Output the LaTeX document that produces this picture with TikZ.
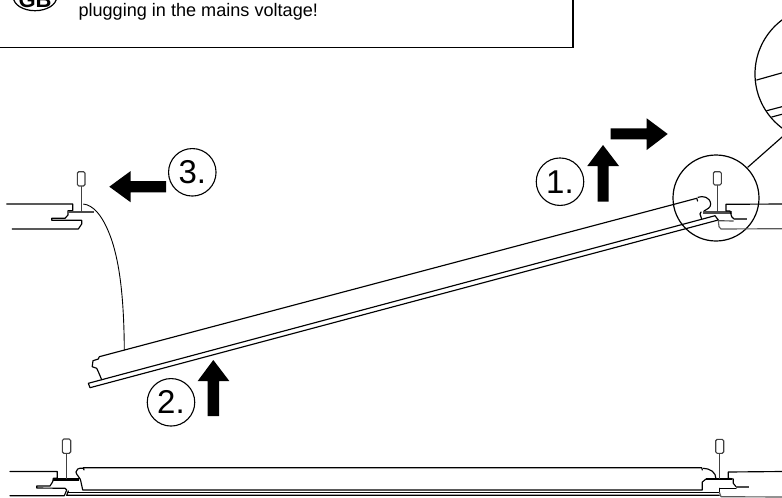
\documentclass[tikz,border=0pt]{standalone}
\usepackage{fontspec}
\setmainfont{Liberation Sans}
\tikzset{
  ln/.style={draw=black,line width=1.15pt,line join=round,line cap=round},
  thinl/.style={draw=black,line width=0.9pt,line join=round},
  grayl/.style={draw=black!65,line width=1.15pt,line join=round},
  flangeb/.style={draw=black,line width=2.4pt},
  bar/.style={draw=black!70,line width=2.4pt},
  stem/.style={draw=black!75,line width=1.5pt},
  knob/.style={draw=black!75,line width=1.1pt,rounded corners=1.5pt,fill=white},
  bigarrow/.style={fill=black},
  stepnum/.style={circle,draw=black,line width=1.1pt,inner sep=0pt,minimum size=47.5pt,font=\fontsize{33}{34}\selectfont},
  lens/.style={circle,draw=black,line width=1.2pt,inner sep=0pt}
}
\begin{document}
\begin{tikzpicture}[x=1pt,y=-1pt]
\clip (0,0) rectangle (782,498);
\fill[white] (0,0) rectangle (782,498);
% notice box
\coordinate (boxcorner) at (573,47.5);
\coordinate (boxleft) at (0,47.5);
\coordinate (boxtop) at (573,0);
\draw[line width=1.2pt] (boxleft) -- (boxcorner) -- (boxtop);
\draw[line width=1.2pt] (35,-3) ellipse [x radius=21.7,y radius=13.7];
\node[anchor=base,inner sep=0pt,font=\fontsize{22}{24}\selectfont\bfseries] (gb) at (35,7.5) {GB};
\node[anchor=base west,inner sep=0pt,font=\fontsize{18.1}{20}\selectfont] (notice) at (78.3,16) {plugging in the mains voltage!};
% magnifier lenses
\node[lens,minimum size=135pt] (lensbig) at (822.5,74) {};
\node[lens,minimum size=86pt] (lenssmall) at (716,198) {};
\coordinate (linkA) at (747.7,167.3);
\coordinate (linkB) at (790,130);
\draw[ln] (linkA) -- (linkB);
\draw[ln] (756.7,80) -- (790,70.6);
\draw[ln] (766.7,110.7) -- (790,104.6);
\draw[ln] (771.7,117) -- (790,112.2);
% arrows
\fill[bigarrow] (610.7,128.3) -- (646.7,128.3) -- (646.7,118.3) -- (667.7,134) -- (646.7,150) -- (646.7,139.3) -- (610.7,139.3) -- cycle;
\fill[bigarrow] (597.7,201.7) -- (597.7,166) -- (587.3,166) -- (603,145) -- (619,166) -- (608.7,166) -- (608.7,201.7) -- cycle;
\fill[bigarrow] (207.7,416) -- (207.7,381) -- (197.7,381) -- (213.3,360) -- (229.3,381) -- (219,381) -- (219,416) -- cycle;
\fill[bigarrow] (166,181) -- (130.7,181) -- (130.7,171) -- (109.3,186.7) -- (130.7,202.3) -- (130.7,192.3) -- (166,192.3) -- cycle;
\node[stepnum] (one) at (560,181.7) {1.};
\node[stepnum] (two) at (171,402.3) {2.};
\node[stepnum] (three) at (192.3,172.3) {3.};
% top-left fixing
\draw[ln] (6.7,204) -- (72.7,204) -- (72.7,210.7) -- (68,210.7) -- (68,215) -- (65,218.3) -- (51.7,218.3) -- (51.7,220.3) -- (81.7,220.3) -- (81.7,224) -- (78.3,229) -- (12.3,229);
\draw[bar] (68,212) -- (94,212);
\draw[stem] (81.3,186) -- (81.3,212);
\draw[knob] (77.3,171.7) rectangle (85,186);
\draw[thinl] (83.3,204) .. controls (93,205) and (103,215) .. (111.7,240) .. controls (120,265) and (124,300) .. (124.3,350);
% tilted panel
\draw[ln] (696.7,198.3) -- (99.3,356.7) -- (98.3,359) -- (93,360.7) -- (92.2,366.7) -- (96.7,368.3) -- (98.3,371.7) -- (101.7,379.7);
\draw[ln] (696.7,198.3) -- (697.6,201);
\draw[ln] (698,197.3) .. controls (703,195.5) and (710,197) .. (710.7,204) .. controls (710.7,208) and (707,209) .. (704,211);
\draw[ln] (701,212) -- (700,214) -- (701.5,218.5);
\draw[ln] (88.3,383.3) -- (715,215.7) -- (718.3,220) -- (90,387.7) -- cycle;
% top-right fixing
\draw[bar] (703.3,212.3) -- (731.7,212.3);
\draw[stem] (717.7,185) -- (717.7,212);
\draw[knob] (713.3,171.7) rectangle (721.3,185);
\draw[ln] (782,204) -- (726,204.3) -- (726,211) -- (730,211) -- (731.7,216.7) -- (734,219);
\draw[bar] (734,219) -- (746.7,219);
\draw[ln,draw=black!70] (718.3,220.7) -- (733.3,221);
\draw[grayl] (718.3,220.7) -- (719,226.7) -- (721,229) -- (782,228.7);
% bottom panel
\draw[ln] (10,471.5) -- (57.3,471.5) -- (57.3,478.3) -- (53.3,478.3) -- (52.7,481.7) -- (50,486) -- (36.7,486) -- (36.7,488) -- (65,488.3) -- (66.7,490) -- (64.3,495.7) -- (10,495.7);
\draw[flangeb] (53.3,479.3) -- (79.3,479.3);
\draw[stem] (66.7,453.3) -- (66.7,479.3);
\draw[knob] (62.3,439) rectangle (70.7,453.3);
\draw[ln] (84,470) -- (83.3,467.7) -- (701.7,467.7) -- (702.3,470);
\draw[ln] (83.3,468.2) .. controls (78,467.5) and (76,470) .. (76,472) .. controls (76,475) and (81,478) .. (81,482) -- (82.7,490) -- (702.3,490) -- (702.3,482) -- (706,479);
\draw[ln] (703.3,468.3) .. controls (710,468.5) and (716,472) .. (716,479);
\draw[ln,line width=1.2pt] (68.3,491) -- (66.7,495.3) -- (719.3,495.3);
\draw[ln,line width=1.2pt] (68.3,492.3) -- (719.3,492.3);
\draw[flangeb] (706,479) -- (731.7,479);
\draw[stem] (719.3,453.3) -- (719.3,479);
\draw[knob] (715.7,439.3) rectangle (723.7,453.3);
\draw[ln] (782,471.5) -- (728.3,472) -- (728.3,478.3) -- (733.3,479) -- (733.3,483.3) -- (736,486.7);
\draw[bar] (736,486.7) -- (749.3,486.7);
\draw[ln] (720,488.3) -- (736,488.3);
\draw[ln] (719.3,488.3) -- (719.3,492);
\draw[grayl] (719.3,492) -- (721,496.7) -- (782,497);
\end{tikzpicture}
\end{document}
